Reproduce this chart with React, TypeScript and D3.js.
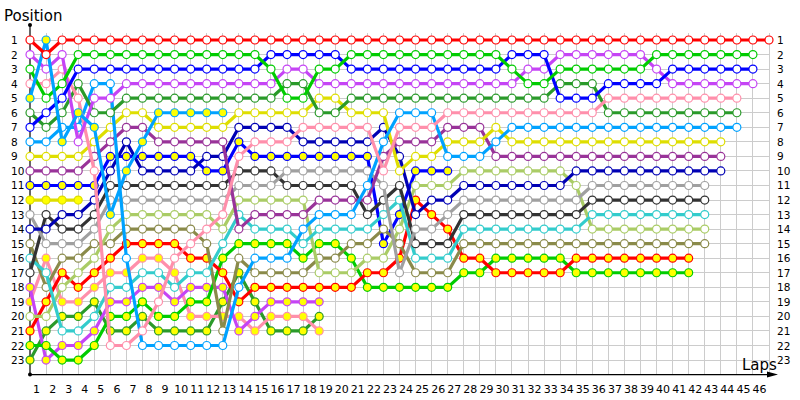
import React from "react";
import * as d3 from "d3";

// ---- tick labels ----
const lapLabels = [1, 2, 3, 4, 5, 6, 7, 8, 9, 10, 11, 12, 13, 14, 15, 16, 17, 18, 19, 20, 21, 22, 23, 24, 25, 26, 27, 28, 29, 30, 31, 32, 33, 34, 35, 36, 37, 38, 39, 40, 41, 42, 43, 44, 45, 46];
const positionLabels = [1, 2, 3, 4, 5, 6, 7, 8, 9, 10, 11, 12, 13, 14, 15, 16, 17, 18, 19, 20, 21, 22, 23];

// ---- position of each driver at lap 0,1,2,... ----
const redW = [1, 2, 1, 1, 1, 1, 1, 1, 1, 1, 1, 1, 1, 1, 1, 1, 1, 1, 1, 1, 1, 1, 1, 1, 1, 1, 1, 1, 1, 1, 1, 1, 1, 1, 1, 1, 1, 1, 1, 1, 1, 1, 1, 1, 1, 1, 1];
const greenW = [3, 5, 4, 2, 2, 2, 2, 2, 2, 2, 2, 2, 2, 2, 2, 3, 5, 5, 3, 3, 2, 2, 2, 2, 2, 2, 2, 2, 2, 2, 3, 4, 4, 3, 3, 3, 3, 3, 3, 2, 2, 2, 2, 2, 2, 2];
const blueW = [7, 6, 5, 3, 3, 3, 3, 3, 3, 3, 3, 3, 3, 3, 3, 2, 2, 2, 2, 2, 3, 3, 3, 3, 3, 3, 3, 3, 3, 3, 2, 2, 2, 5, 5, 5, 4, 4, 4, 4, 3, 3, 3, 3, 3, 3];
const magentaW = [2, 3, 2, 8, 5, 5, 4, 4, 4, 4, 4, 4, 4, 4, 4, 4, 3, 3, 4, 4, 4, 4, 4, 4, 4, 4, 4, 4, 4, 4, 4, 3, 3, 2, 2, 2, 2, 2, 2, 3, 4, 4, 4, 4, 4, 4];
const pinkW = [4, 4, 3, 5, 10, 22, 22, 21, 19, 16, 15, 14, 13, 9, 8, 8, 8, 7, 7, 7, 7, 7, 10, 7, 7, 7, 6, 6, 6, 6, 6, 6, 6, 6, 6, 6, 5, 5, 5, 5, 5, 5, 5, 5, 5];
const dkGreenW = [6, 7, 6, 4, 6, 6, 5, 5, 5, 5, 5, 5, 5, 5, 5, 5, 4, 4, 6, 6, 5, 5, 5, 5, 5, 5, 5, 5, 5, 5, 5, 5, 5, 4, 4, 4, 6, 6, 6, 6, 6, 6, 6, 6, 6];
const lBlueW = [8, 8, 7, 7, 4, 4, 16, 22, 22, 22, 22, 22, 22, 18, 16, 16, 16, 14, 13, 13, 13, 11, 8, 6, 6, 6, 9, 9, 9, 8, 7, 7, 7, 7, 7, 7, 7, 7, 7, 7, 7, 7, 7, 7, 7];
const yellowW = [9, 9, 9, 9, 8, 7, 6, 6, 7, 7, 7, 7, 7, 6, 6, 6, 6, 6, 5, 5, 6, 6, 6, 10, 9, 9, 8, 8, 8, 7, 8, 8, 8, 8, 8, 8, 8, 8, 8, 8, 8, 8, 8, 8];
const purpleW = [10, 10, 10, 10, 9, 8, 7, 7, 8, 8, 8, 8, 8, 14, 13, 13, 13, 13, 12, 12, 12, 12, 9, 8, 8, 8, 7, 7, 7, 9, 9, 9, 9, 9, 9, 9, 9, 9, 9, 9, 9, 9, 9, 9];
const navyW = [14, 14, 13, 13, 12, 10, 8, 10, 10, 10, 10, 9, 9, 7, 7, 7, 7, 8, 8, 8, 8, 8, 7, 9, 13, 12, 12, 11, 11, 11, 11, 11, 11, 11, 10, 10, 10, 10, 10, 10, 10, 10, 10, 10];
const grayW = [13, 15, 15, 15, 14, 12, 12, 12, 12, 12, 12, 12, 12, 11, 11, 11, 10, 10, 10, 10, 10, 10, 11, 17, 14, 14, 13, 12, 12, 12, 12, 12, 12, 12, 12, 11, 11, 11, 11, 11, 11, 11, 11];
const blackW = [17, 13, 14, 14, 13, 11, 11, 11, 11, 11, 11, 11, 11, 10, 10, 10, 11, 11, 11, 11, 11, 13, 12, 11, 15, 15, 15, 13, 13, 13, 13, 13, 13, 13, 13, 12, 12, 12, 12, 12, 12, 12, 12];
const cyanW = [16, 17, 21, 21, 20, 18, 18, 17, 17, 18, 17, 17, 15, 13, 14, 14, 14, 15, 14, 14, 14, 14, 13, 12, 16, 16, 16, 14, 14, 14, 14, 14, 14, 14, 14, 13, 13, 13, 13, 13, 13, 13, 13];
const lGreenW = [20, 20, 18, 17, 16, 14, 13, 13, 13, 13, 13, 13, 14, 12, 12, 12, 12, 12, 17, 17, 17, 16, 16, 14, 11, 11, 11, 10, 10, 10, 10, 10, 10, 10, 11, 14, 14, 14, 14, 14, 14, 14, 14];
const oliveW = [15, 18, 16, 16, 15, 15, 14, 14, 14, 14, 14, 15, 21, 16, 17, 17, 17, 17, 16, 16, 15, 15, 14, 15, 17, 17, 17, 15, 15, 15, 15, 15, 15, 15, 15, 15, 15, 15, 15, 15, 15, 15, 15];
const redY = [21, 19, 17, 18, 17, 16, 15, 15, 15, 15, 16, 16, 17, 19, 18, 18, 18, 18, 18, 18, 18, 17, 17, 16, 12, 13, 14, 16, 16, 17, 17, 17, 17, 17, 16, 16, 16, 16, 16, 16, 16, 16];
const greenY = [22, 22, 23, 23, 22, 20, 20, 19, 20, 20, 19, 19, 16, 15, 15, 15, 15, 16, 15, 15, 16, 18, 18, 18, 18, 18, 18, 17, 17, 16, 16, 16, 16, 16, 17, 17, 17, 17, 17, 17, 17, 17];
const blueY = [11, 11, 11, 11, 11, 9, 9, 9, 9, 9, 9, 10, 10, 8, 9, 9, 9, 9, 9, 9, 9, 9, 15, 13, 10, 10, 10];
const magentaY = [18, 23, 22, 22, 21, 19, 19, 18, 18, 19, 18, 18, 18, 21, 20, 19, 19, 19, 19];
const pinkY = [19, 16, 19, 19, 18, 17, 17, 16, 16, 17, 20, 20, 20, 20, 21, 20, 20, 20, 21];
const dkGreenY = [23, 21, 20, 20, 19, 21, 21, 20, 21, 21, 21, 21, 19, 17, 19, 21, 21, 21, 20];
const lBlueY = [5, 1, 8, 6, 7, 13, 10, 8, 6, 6, 6, 6, 6];
const yellowY = [12, 12, 12, 12];

const WHITE = "#ffffff";
const YEL = "#ffff00";

const series = [
  { id: "yellowY", stroke: "#dede00", fill: YEL, pos: yellowY },
  { id: "dkGreenY", stroke: "#2a9a2a", fill: YEL, pos: dkGreenY },
  { id: "pinkY", stroke: "#ff8fab", fill: YEL, pos: pinkY },
  { id: "magentaY", stroke: "#c544f5", fill: YEL, pos: magentaY },
  { id: "blueY", stroke: "#0000ff", fill: YEL, pos: blueY },
  { id: "greenY", stroke: "#00cc00", fill: YEL, pos: greenY },
  { id: "redY", stroke: "#ff0000", fill: YEL, pos: redY },
  { id: "oliveW", stroke: "#8a8a4a", fill: WHITE, pos: oliveW },
  { id: "lGreenW", stroke: "#aacc66", fill: WHITE, pos: lGreenW },
  { id: "cyanW", stroke: "#33cccc", fill: WHITE, pos: cyanW },
  { id: "blackW", stroke: "#333333", fill: WHITE, pos: blackW },
  { id: "grayW", stroke: "#a0a0a0", fill: WHITE, pos: grayW },
  { id: "navyW", stroke: "#0000b4", fill: WHITE, pos: navyW },
  { id: "purpleW", stroke: "#993399", fill: WHITE, pos: purpleW },
  { id: "yellowW", stroke: "#dede00", fill: WHITE, pos: yellowW },
  { id: "lBlueW", stroke: "#00a2ff", fill: WHITE, pos: lBlueW },
  { id: "dkGreenW", stroke: "#2a9a2a", fill: WHITE, pos: dkGreenW },
  { id: "pinkW", stroke: "#ff8fab", fill: WHITE, pos: pinkW },
  { id: "magentaW", stroke: "#c544f5", fill: WHITE, pos: magentaW },
  { id: "blueW", stroke: "#0000ff", fill: WHITE, pos: blueW },
  { id: "greenW", stroke: "#00cc00", fill: WHITE, pos: greenW },
  { id: "lBlueY", stroke: "#00a2ff", fill: YEL, pos: lBlueY },
  { id: "redW", stroke: "#ff0000", fill: WHITE, pos: redW },
];

const x = d3.scaleLinear().domain([0, 46]).range([30, 769]);
const y = d3.scaleLinear().domain([1, 24]).range([40, 374.6]);
const FONT = "'DejaVu Sans', Verdana, sans-serif";

export default function App() {
  const line = d3
    .line<number>()
    .x((_, i) => x(i))
    .y((d) => y(d));
  const axisY = y(24);
  const gridTop = y(0.5);
  return (
    <div style={{ position: "absolute", left: 0, top: 0 }}>
      <svg width={800} height={400} style={{ display: "block", background: "#ffffff" }}>
        {/* grid */}
        <g stroke="#cccccc" strokeWidth={1} shapeRendering="crispEdges">
          {lapLabels.map((l) => (
            <line key={"v" + l} x1={x(l)} x2={x(l)} y1={gridTop} y2={axisY} />
          ))}
          {positionLabels.map((p) => (
            <line key={"h" + p} x1={x(0)} x2={x(46)} y1={y(p)} y2={y(p)} />
          ))}
        </g>
        {/* axes */}
        <line x1={x(0)} x2={x(0)} y1={25} y2={axisY} stroke="#000" strokeWidth={1.2} />
        <circle cx={x(0)} cy={25} r={2} fill="#000" />
        <circle cx={x(0)} cy={axisY} r={2} fill="#000" />
        <line x1={x(0)} x2={770} y1={axisY} y2={axisY} stroke="#000" strokeWidth={1.2} />
        <polygon points={`${767},${axisY - 3} ${778},${axisY} ${767},${axisY + 3}`} fill="#000" />
        <text x={4} y={21} fontFamily={FONT} fontSize={15} fill="#000">Position</text>
        <text x={742} y={370} fontFamily={FONT} fontSize={15} fill="#000">Laps</text>
        {/* tick labels */}
        <g fontFamily={FONT} fontSize={10.5} fill="#000">
          {positionLabels.map((p) => (
            <text key={"l" + p} x={11} y={y(p) + 4}>{p}</text>
          ))}
          {positionLabels.map((p) => (
            <text key={"r" + p} x={777} y={y(p) + 4}>{p}</text>
          ))}
          {lapLabels.map((l) => (
            <text key={"b" + l} x={x(l) - 9.5} y={393} textAnchor="middle" fontSize={11}>{l}</text>
          ))}
        </g>
        {/* series */}
        {series.map((s) => (
          <g key={s.id}>
            <path d={line(s.pos) || ""} fill="none" stroke={s.stroke} strokeWidth={3.2} strokeLinejoin="round" />
            {s.pos.map((p, i) => (
              <circle key={i} cx={x(i)} cy={y(p)} r={4} fill={s.fill} stroke={s.stroke} strokeWidth={1.2} />
            ))}
          </g>
        ))}
      </svg>
    </div>
  );
}
